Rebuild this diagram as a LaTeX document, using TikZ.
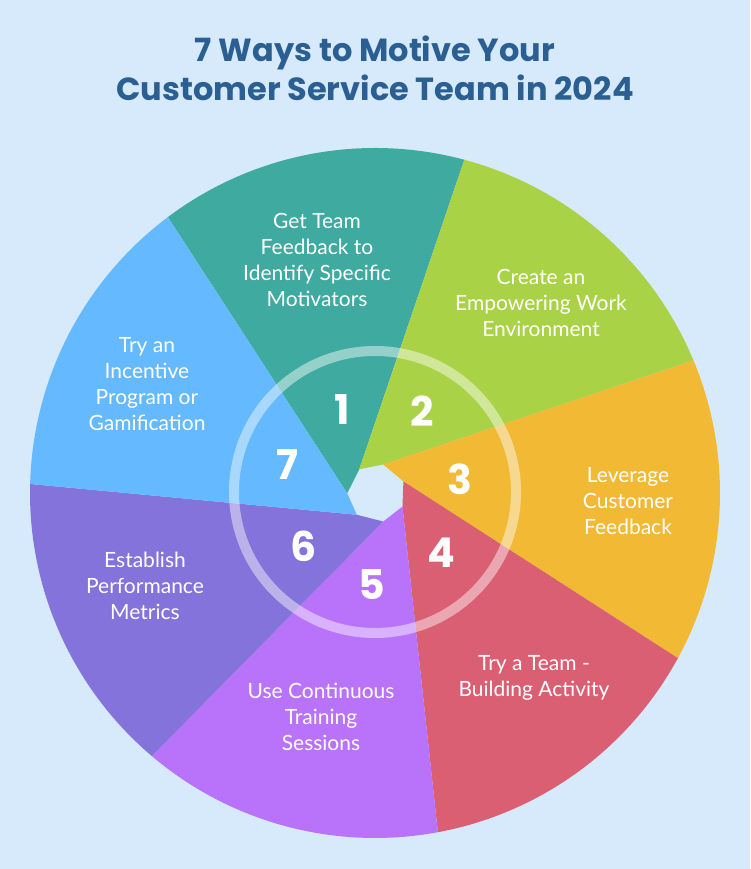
\documentclass[tikz,border=0pt]{standalone}
\usepackage{fontspec}
\setmainfont{Lato}
\newfontfamily\titlefont{Poppins}
\usetikzlibrary{calc}
\definecolor{bgblue}{HTML}{D6EAFC}
\definecolor{titleblue}{HTML}{2B5F91}
\definecolor{wteal}{HTML}{3EAAA0}
\definecolor{wgreen}{HTML}{AAD246}
\definecolor{worange}{HTML}{F2B935}
\definecolor{wred}{HTML}{DA5F73}
\definecolor{wviolet}{HTML}{B973FA}
\definecolor{wpurple}{HTML}{8473DA}
\definecolor{wblue}{HTML}{64B9FF}

\begin{document}
\begin{tikzpicture}[x=1pt,y=1pt,
          tip/.style={text=white,align=center,
                      font=\fontsize{21}{26}\selectfont},
          num/.style={text=white,font=\titlefont\bfseries\fontsize{41}{41}\selectfont}]
        \fill[bgblue] (0,0) rectangle (750,869);
        \node[text=titleblue,align=center,
              font=\titlefont\bfseries\fontsize{32}{39}\selectfont]
              (title) at (375,801) {7 Ways to Motive Your\\Customer Service Team in 2024};
        % pinwheel wedges round the little hole
        \coordinate (c) at (375,376);
        \coordinate (h) at (376.5,376);
        \foreach \col/\ha/\a/\hb/\e in {wteal/180.6/126.9/126/75.0,
            wgreen/126/75.0/76.8/22.6, worange/76.8/22.6/23.3/-28.6,
            wred/23.3/-28.6/-27.6/-79.5, wviolet/-27.6/-79.5/-76.7/-130.3,
            wpurple/-76.7/-130.3/-132/-181.5, wblue/-132/-181.5/180.6/-233.1}{
          \fill[\col] ($(h)+(\ha:29.3)$) -- ($(c)+(\a:345)$)
                arc[start angle=\a,end angle=\e,radius=345]
                -- ($(h)+(\hb:29.3)$) -- cycle;
        }
        \draw[white,opacity=0.45,line width=10] (375,377) circle[radius=141];
        % step numbers
        \node[num] (n1) at (342,459) {1};
        \node[num] (n2) at (422,458) {2};
        \node[num] (n3) at (460,390) {3};
        \node[num] (n4) at (441,316) {4};
        \node[num] (n5) at (372,284) {5};
        \node[num] (n6) at (304,323) {6};
        \node[num] (n7) at (287,404) {7};
        % the seven ways
        \node[tip] (t1) at (317,609) {Get Team\\Feedback to\\Identify Specific\\Motivators};
        \node[tip] (t2) at (541,566) {Create an\\Empowering Work\\Environment};
        \node[tip] (t3) at (628,368) {Leverage\\Customer\\Feedback};
        \node[tip] (t4) at (534,191) {Try a Team -\\Building Activity};
        \node[tip] (t5) at (321,152) {Use Continuous\\Training\\Sessions};
        \node[tip] (t6) at (145,283) {Establish\\Performance\\Metrics};
        \node[tip] (t7) at (147,485) {Try an\\Incentive\\Program or\\Gamification};
      \end{tikzpicture}
\end{document}
